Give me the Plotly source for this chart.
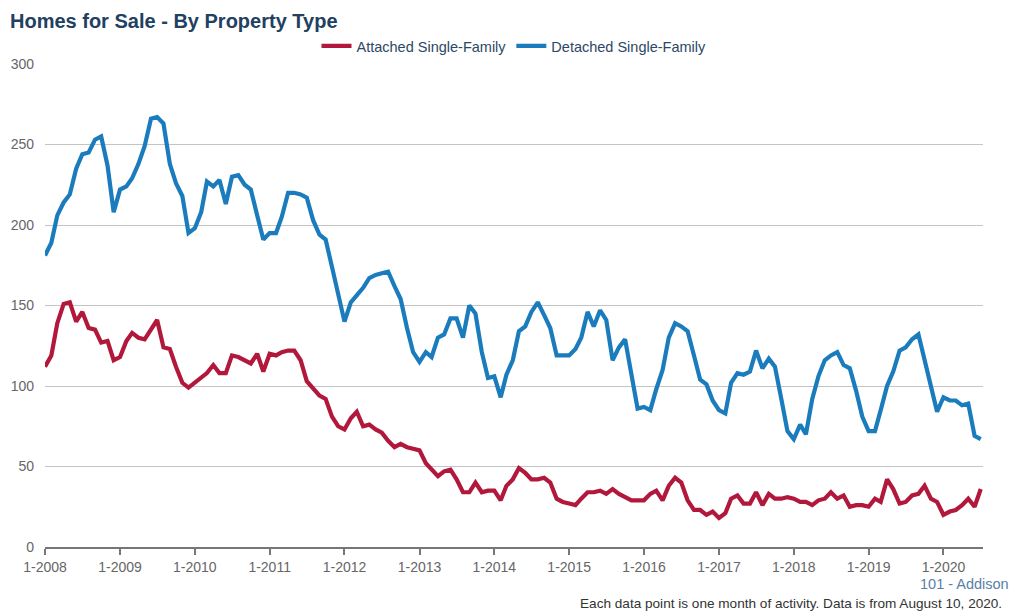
import pandas as pd
import plotly.graph_objects as go

months = pd.date_range("2008-01-01", "2020-07-01", freq="MS")

attached = [
    112, 119, 139, 151, 152, 140, 146, 136, 135, 127, 128, 116,
    118, 128, 133, 130, 129, 135, 141, 124, 123, 112, 102, 99,
    102, 105, 108, 113, 108, 108, 119, 118, 116, 114, 120, 109,
    120, 119, 121, 122, 122, 116, 103, 98, 94, 92, 81, 75,
    73, 80, 84, 75, 76, 73, 71, 66, 62, 64, 62, 61,
    60, 52, 48, 44, 47, 48, 42, 34, 34, 40, 34, 35,
    35, 29, 38, 42, 49, 46, 42, 42, 43, 40, 30, 28,
    27, 26, 30, 34, 34, 35, 33, 36, 33, 31, 29, 29,
    29, 33, 35, 29, 38, 43, 40, 29, 23, 23, 20, 22,
    18, 21, 30, 32, 27, 27, 34, 26, 33, 30, 30, 31,
    30, 28, 28, 26, 29, 30, 34, 30, 32, 25, 26, 26,
    25, 30, 28, 42, 36, 27, 28, 32, 33, 38, 30, 28,
    20, 22, 23, 26, 30, 25, 36,
]

detached = [
    181, 189, 206, 214, 219, 235, 244, 245, 253, 255, 237, 208,
    222, 224, 229, 238, 249, 266, 267, 263, 238, 226, 218, 195,
    198, 208, 227, 224, 228, 213, 230, 231, 225, 222, 206, 191,
    195, 195, 205, 220, 220, 219, 217, 203, 194, 191, 174, 156,
    140, 152, 156, 161, 167, 169, 170, 171, 162, 154, 136, 121,
    115, 121, 118, 130, 132, 142, 142, 130, 150, 145, 121, 105,
    106, 93, 107, 116, 134, 137, 146, 152, 144, 136, 119, 119,
    119, 123, 130, 146, 137, 147, 141, 116, 124, 129, 106, 86,
    87, 85, 98, 110, 130, 139, 137, 134, 119, 104, 101, 91,
    85, 83, 102, 108, 107, 109, 122, 111, 117, 112, 92, 72,
    67, 76, 70, 92, 106, 116, 119, 121, 113, 111, 97, 81,
    72, 72, 85, 100, 109, 122, 124, 129, 132, 116, 100, 84,
    93, 91, 91, 88, 89, 69, 67,
]

series_names = ["Attached Single-Family", "Detached Single-Family"]
series_colors = ["#b2183b", "#1b7cbd"]

y_ticks = [0, 50, 100, 150, 200, 250, 300]
x_ticks = pd.date_range("2008-01-01", "2020-01-01", freq="YS")
x_tick_labels = [f"1-{d.year}" for d in x_ticks]

FONT = "Arial, 'Liberation Sans', sans-serif"

fig = go.Figure()
for name, vals, col in zip(series_names, [attached, detached], series_colors):
    fig.add_trace(go.Scatter(
        x=months, y=vals, mode="lines", name=name,
        line=dict(color=col, width=4.2),
    ))

fig.update_layout(
    width=1019, height=614,
    margin=dict(l=45, r=36, t=64, b=67),
    paper_bgcolor="white", plot_bgcolor="white",
    font=dict(family=FONT, size=14, color="#666666"),
    title=dict(
        text="<b>Homes for Sale - By Property Type</b>",
        x=10 / 1019, xref="container", xanchor="left",
        y=1 - 21 / 614, yref="container", yanchor="middle",
        font=dict(family=FONT, size=20, color="#22405f"),
    ),
    legend=dict(
        orientation="h", x=0.5, xanchor="center",
        y=1 + (64 - 46) / 484, yanchor="middle",
        font=dict(family=FONT, size=14.5, color="#2d4766"),
        itemwidth=30, bgcolor="rgba(0,0,0,0)",
    ),
    xaxis=dict(
        range=["2008-01-01", "2020-07-12"],
        tickvals=x_ticks, ticktext=x_tick_labels,
        showgrid=False, showline=True, linecolor="#777777", linewidth=2,
        ticks="outside", ticklen=6, tickwidth=2, tickcolor="#777777",
        tickfont=dict(size=14, color="#666666"),
        zeroline=False,
    ),
    yaxis=dict(
        range=[0, 300], tickvals=y_ticks,
        showgrid=True, gridcolor="#c4c4c4", gridwidth=1,
        zeroline=False, showline=False, ticks="",
        ticklabelstandoff=10,
        tickfont=dict(size=14, color="#666666"),
    ),
    showlegend=True,
)

fig.add_annotation(
    text="101 - Addison", xref="paper", yref="paper",
    x=(1011 - 45) / 938, y=-(584 - 547) / 484,
    xanchor="right", yanchor="middle", showarrow=False,
    font=dict(family=FONT, size=14.5, color="#5a80a8"),
)
fig.add_annotation(
    text="Each data point is one month of activity. Data is from August 10, 2020.",
    xref="paper", yref="paper",
    x=(1004 - 45) / 938, y=-(604 - 547) / 484,
    xanchor="right", yanchor="middle", showarrow=False,
    font=dict(family=FONT, size=13.6, color="#333333"),
)

fig.write_html(
    "out.html",
    config={"displayModeBar": False},
    post_script="document.body.style.margin='0';document.body.style.overflow='hidden';",
)
